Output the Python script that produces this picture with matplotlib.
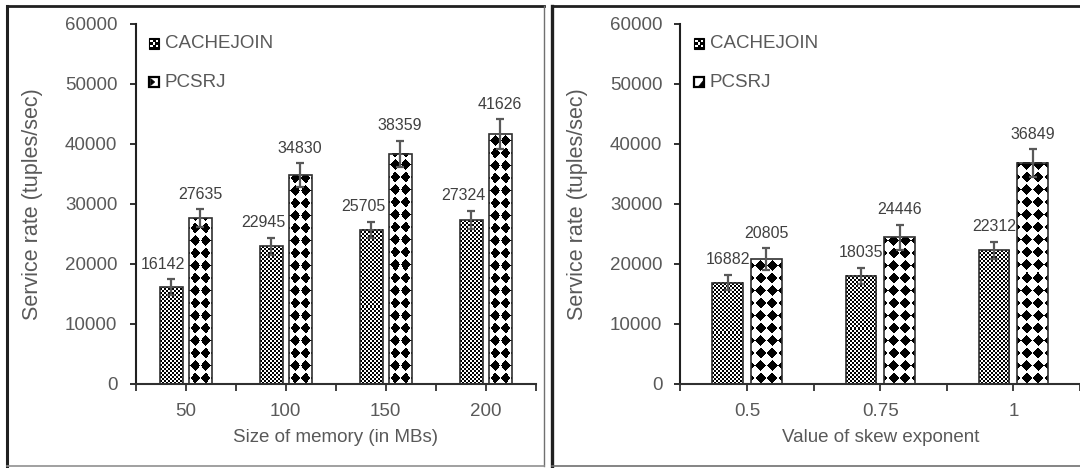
import numpy as np
import matplotlib
matplotlib.use("Agg")
import matplotlib.pyplot as plt
from matplotlib.patches import Rectangle, Polygon
from matplotlib.lines import Line2D
from matplotlib.legend_handler import HandlerBase

# ---------------- data ----------------
series_names = ["CACHEJOIN", "PCSRJ"]

mem_labels = ["50", "100", "150", "200"]
mem_cachejoin = [16142, 22945, 25705, 27324]
mem_pcsrj = [27635, 34830, 38359, 41626]
mem_cachejoin_err = [1300, 1390, 1345, 1560]
mem_pcsrj_err = [1480, 1950, 2140, 2490]

skew_labels = ["0.5", "0.75", "1"]
skew_cachejoin = [16882, 18035, 22312]
skew_pcsrj = [20805, 24446, 36849]
skew_cachejoin_err = [1285, 1350, 1400]
skew_pcsrj_err = [1810, 2050, 2270]

y_ticks = [0, 10000, 20000, 30000, 40000, 50000, 60000]

# ---------------- style ----------------
W, H, DPI = 1080, 468, 100
GRAY = "#595959"
LBL = "#404040"
SANS = ["Liberation Sans", "DejaVu Sans"]
NARROW = ["Liberation Sans Narrow", "Liberation Sans", "DejaVu Sans"]
plt.rcParams["font.family"] = SANS

fig = plt.figure(figsize=(W / DPI, H / DPI), dpi=DPI)


def fline(x0, y0, x1, y1, lw, col):
    fig.lines.append(Line2D([x0 / W, x1 / W], [1 - y0 / H, 1 - y1 / H],
                            transform=fig.transFigure, color=col, linewidth=lw,
                            solid_capstyle="projecting"))

# left panel frame
fline(6.5, 6, 544, 6, 2.0, "#202020")
fline(6.5, 6, 6.5, 466, 2.2, "#202020")
fline(544, 6, 544, 466, 1.0, "#707070")
fline(6.5, 466, 544, 466, 1.2, "#909090")
# right panel frame
fline(552, 6, 1085, 6, 2.0, "#202020")
fline(552, 6, 552, 466, 2.4, "#202020")
fline(552, 466, 1085, 466, 1.2, "#707070")


def checker(hp, wp):
    ii, jj = np.mgrid[0:hp, 0:wp]
    return (((ii // 2) + (jj // 2)) % 2).astype(float)


def diamonds(hp, wp, s):
    yy, xx = np.mgrid[0:hp, 0:wp] + 0.5
    out = np.ones((hp, wp))
    t = 12.5
    cxs = wp / 2 + s * (np.arange(-3, 3) + 0.5)
    cys = 6 + t * np.arange(0, int(hp / t) + 2)
    for cx in cxs:
        for cy in cys:
            m = np.abs(xx - cx) / (0.48 * s) + np.abs(yy - cy) / 5.6 <= 1
            out[m] = 0
    return out


def fill_bar(ax, bar, kind, s):
    x0 = bar.get_x(); w = bar.get_width(); h = bar.get_height()
    p0 = ax.transData.transform((x0, 0))
    p1 = ax.transData.transform((x0 + w, h))
    wp = max(1, int(round(p1[0] - p0[0])))
    hp = max(1, int(round(p1[1] - p0[1])))
    arr = checker(hp, wp) if kind == 0 else diamonds(hp, wp, s)
    if kind == 0:
        arr = 1 - arr
    ax.imshow(arr, cmap="gray", vmin=0, vmax=1, origin="lower",
              extent=(x0, x0 + w, 0, h), aspect="auto",
              interpolation="nearest", zorder=2)


class CheckerHandler(HandlerBase):
    def create_artists(self, legend, orig, xd, yd, width, height, fontsize, trans):
        sz = min(width, height)
        x = xd + 0; y = yd + (height - sz) / 2
        arts = [Rectangle((x, y), sz, sz, facecolor="black", edgecolor="black",
                          lw=0.8, transform=trans)]
        d = sz / 4
        for cx, cy in [(1, 1), (3, 1), (1, 3), (3, 3), (2, 2)]:
            arts.append(Rectangle((x + cx * d - d * 0.45, y + cy * d - d * 0.45), d * 0.9, d * 0.9,
                                  facecolor="white", edgecolor="none", transform=trans))
        return arts


class DiamondHandler(HandlerBase):
    def __init__(self, flip=False):
        super().__init__()
        self.flip = flip

    def create_artists(self, legend, orig, xd, yd, width, height, fontsize, trans):
        sz = min(width, height)
        x = xd + 0; y = yd + (height - sz) / 2
        arts = [Rectangle((x, y), sz, sz, facecolor="white", edgecolor="black",
                          lw=1.6, transform=trans)]
        if self.flip:
            pts = [(x + sz * 0.35, y + sz * 0.15), (x + sz * 0.85, y + sz * 0.15), (x + sz * 0.85, y + sz * 0.65)]
        else:
            pts = [(x + sz * 0.15, y + sz * 0.15), (x + sz * 0.55, y + sz * 0.5),
                   (x + sz * 0.15, y + sz * 0.85)]
        arts.append(Polygon(pts, closed=True, facecolor="black", edgecolor="black",
                            lw=0.5, transform=trans))
        return arts


def panel(rect, labels, cj, pc, cj_err, pc_err, xlabel, s, cj_dx, flip, ypad):
    ax = fig.add_axes(rect)
    n = len(labels)
    x = np.arange(n)
    width, off = 0.23, 0.145
    ax.set_xlim(-0.5, n - 0.5)
    ax.set_ylim(0, 60000)
    b1 = ax.bar(x - off, cj, width, facecolor="white", edgecolor="#303030", linewidth=1.2, zorder=3)
    b2 = ax.bar(x + off, pc, width, facecolor="white", edgecolor="#303030", linewidth=1.2, zorder=3)
    for b in b1:
        b.set_facecolor("none")
        fill_bar(ax, b, 0, s)
    for b in b2:
        b.set_facecolor("none")
        fill_bar(ax, b, 1, s)
    ax.errorbar(x - off, cj, yerr=cj_err, fmt="none", ecolor=GRAY, elinewidth=1.6,
                capsize=3, capthick=1.6, zorder=5)
    ax.errorbar(x + off, pc, yerr=pc_err, fmt="none", ecolor=GRAY, elinewidth=1.6,
                capsize=3, capthick=1.6, zorder=5)
    for xi, v, e in zip(x - off, cj, cj_err):
        ax.annotate(str(v), xy=(xi, v + e), xytext=(cj_dx, 11), textcoords="offset points",
                    ha="center", va="center", fontsize=11.5, color=LBL, family=NARROW, zorder=6)
    for xi, v, e in zip(x + off, pc, pc_err):
        ax.annotate(str(v), xy=(xi, v + e), xytext=(0, 11), textcoords="offset points",
                    ha="center", va="center", fontsize=11.5, color=LBL, family=NARROW, zorder=6)

    for sp in ["top", "right"]:
        ax.spines[sp].set_visible(False)
    ax.spines["left"].set_color("#202020")
    ax.spines["bottom"].set_color("#303030")
    ax.spines["left"].set_linewidth(1.5)
    ax.spines["bottom"].set_linewidth(1.5)
    ax.patch.set_alpha(0)
    ax.set_yticks(y_ticks)
    ax.set_yticklabels([str(t) for t in y_ticks])
    ax.tick_params(axis="y", length=4, width=1.3, color="#202020", pad=9,
                   labelsize=13.5, labelcolor=GRAY)
    ax.set_xticks(np.arange(-0.5, n, 0.5))
    ax.set_xticklabels([labels[int(t)] if float(t).is_integer() else "" for t in np.arange(-0.5, n, 0.5)])
    ax.tick_params(axis="x", length=5, width=1.3, color="#303030", pad=8.5,
                   labelsize=13.5, labelcolor=GRAY)
    ax.set_xlabel(xlabel, fontsize=13.5, color=GRAY, labelpad=7)
    ax.set_ylabel("Service rate (tuples/sec)", fontsize=15.5, color=GRAY, labelpad=ypad)
    ax.legend([b1, b2], series_names,
              handler_map={b1: CheckerHandler(), b2: DiamondHandler(flip)},
              loc="upper left", bbox_to_anchor=(0.015, 0.99), frameon=False,
              fontsize=13.5, labelcolor=GRAY, handlelength=0.55, handleheight=0.55,
              handletextpad=0.3, labelspacing=1.15, borderaxespad=0.0)
    return ax


bottom = (H - 384) / H
height = 360 / H
panel([135.5 / W, bottom, 400 / W, height], mem_labels, mem_cachejoin, mem_pcsrj,
      mem_cachejoin_err, mem_pcsrj_err, "Size of memory (in MBs)", 10.3, -5.8, False, 16)
panel([680.5 / W, bottom, 399.5 / W, height], skew_labels, skew_cachejoin, skew_pcsrj,
      skew_cachejoin_err, skew_pcsrj_err, "Value of skew exponent", 11.5, 0, True, 16)

fig.savefig("out.png", dpi=DPI)
